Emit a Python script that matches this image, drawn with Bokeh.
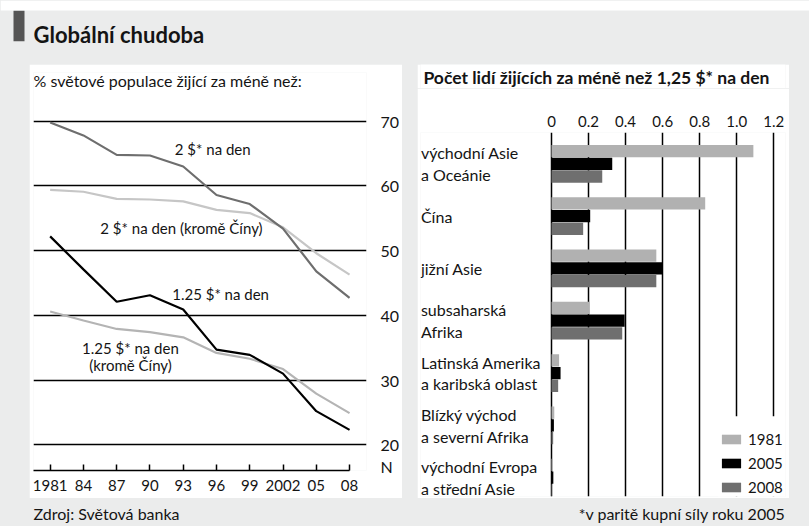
from bokeh.plotting import figure
from bokeh.models import (Range1d, FixedTicker, Label, Legend, LegendItem, BoxAnnotation,
                          Spacer, GlobalInlineStyleSheet)
from bokeh.layouts import row, column
from bokeh.embed import file_html
from bokeh.resources import INLINE
from bokeh.core.properties import value

FONT = "Lato"
BG = "#ebecec"
TXT = "#141414"

# ---------------- data ----------------
years = [1981, 1984, 1987, 1990, 1993, 1996, 1999, 2002, 2005, 2008]
year_labels = ["1981", "84", "87", "90", "93", "96", "99", "2002", "05", "08"]
usd2 = [69.8, 67.8, 64.8, 64.7, 63.0, 58.6, 57.2, 53.4, 46.8, 42.7]
usd2_ex_china = [59.4, 59.1, 58.0, 57.9, 57.6, 56.3, 55.8, 53.6, 49.6, 46.3]
usd125 = [52.2, 47.1, 42.1, 43.1, 40.9, 34.7, 33.9, 31.0, 25.2, 22.3]
usd125_ex_china = [40.6, 39.2, 37.9, 37.4, 36.6, 34.2, 33.3, 31.7, 27.9, 24.9]
pct_ticks = [20, 30, 40, 50, 60, 70]
break_mark = 16.65  # axis-break symbol below the 20 gridline

regions = ["východní Asie\na Oceánie", "Čína", "jižní Asie", "subsaharská\nAfrika",
           "Latinská Amerika\na karibská oblast", "Blízký východ\na severní Afrika",
           "východní Evropa\na střední Asie"]
v1981 = [1.09, 0.83, 0.566, 0.205, 0.041, 0.015, 0.007]
v2005 = [0.328, 0.209, 0.600, 0.395, 0.049, 0.013, 0.010]
v2008 = [0.274, 0.171, 0.566, 0.382, 0.036, 0.009, 0.003]
bar_ticks = [0, 0.2, 0.4, 0.6, 0.8, 1, 1.2]
series_names = ["1981", "2005", "2008"]
series_colors = ["#b1b1b1", "#000000", "#6f6f6f"]


def plain(width, height, fill):
    fig = figure(width=width, height=height, x_range=Range1d(0, width),
                 y_range=Range1d(0, height), output_backend="svg", toolbar_location=None,
                 min_border=0, x_axis_type=None, y_axis_type=None, title=None)
    fig.background_fill_color = fill
    fig.border_fill_color = fill
    fig.outline_line_color = None
    return fig


# ---------------- header ----------------
head = plain(809, 64, BG)
head.add_layout(BoxAnnotation(left=13, right=24, bottom=23.3, top=54, fill_color="#555555",
                              fill_alpha=1, line_color=None))
head.add_layout(BoxAnnotation(bottom=54, fill_color="white", fill_alpha=1, line_color=None))
head.add_layout(Label(x=33, y=30, text="Globální chudoba", text_font=FONT,
                      text_font_size="22px", text_font_style="bold",
                      text_baseline="middle", text_color=TXT))

# ---------------- left chart ----------------
lf = figure(width=373, height=434, x_range=Range1d(1979.498, 2009.528),
            y_range=Range1d(16.03, 77.52), y_axis_location="right",
            output_backend="svg", toolbar_location=None, title=None,
            min_border_left=4, min_border_right=29, min_border_top=8, min_border_bottom=28)
lf.background_fill_color = "white"
lf.border_fill_color = "white"
lf.outline_line_color = None

lf.line(years, usd2_ex_china, line_color="#c6c6c6", line_width=2.2)
lf.line(years, usd2, line_color="#6e6e6e", line_width=2.2)
lf.line(years, usd125_ex_china, line_color="#b4b4b4", line_width=2.2)
lf.line(years, usd125, line_color="#000000", line_width=2.2)

xa = lf.xaxis[0]
xa.ticker = FixedTicker(ticks=years)
xa.major_label_overrides = {y: l for y, l in zip(years, year_labels)}
xa.bounds = (1979.498, 2008)
xa.axis_line_color = "black"
xa.axis_line_width = 1.5
xa.major_tick_in = 6
xa.major_tick_out = 0
xa.major_tick_line_width = 1.5
xa.major_tick_line_color = "black"
xa.minor_tick_line_color = None
xa.major_label_standoff = 9
xa.major_label_text_font = FONT
xa.major_label_text_font_size = "15px"
xa.major_label_text_color = TXT

ya = lf.yaxis[0]
ya.ticker = FixedTicker(ticks=pct_ticks + [break_mark])
ya.major_label_overrides = {break_mark: "N"}
ya.axis_line_color = None
ya.major_tick_line_color = None
ya.minor_tick_line_color = None
ya.major_label_standoff = 8
ya.major_label_text_font = FONT
ya.major_label_text_font_size = "16px"
ya.major_label_text_color = TXT

lf.xgrid.visible = False
lf.ygrid.ticker = FixedTicker(ticks=pct_ticks)
lf.ygrid.grid_line_color = "black"
lf.ygrid.grid_line_width = 1.4

lab = dict(text_font=FONT, text_font_size="15px", text_color=TXT,
           text_align="center", text_baseline="middle")
lf.add_layout(Label(x=1979.498, y=76.29, text="% světové populace žijící za méně než:",
                    text_font=FONT, text_font_size="16px", text_color=TXT,
                    text_align="left", text_baseline="middle"))
lf.add_layout(Label(x=1995.66, y=65.63, text="2 $* na den", **lab))
lf.add_layout(Label(x=1992.84, y=53.56, text="2 $* na den (kromě Číny)", **lab))
lf.add_layout(Label(x=1996.37, y=43.37, text="1.25 $* na den", **lab))
lf.add_layout(Label(x=1988.24, y=34.9, text="1.25 $* na den", **lab))
lf.add_layout(Label(x=1988.24, y=32.4, text="(kromě Číny)", **lab))

# ---------------- right chart ----------------
rtitle = plain(372, 24, "white")
rtitle.add_layout(Label(x=3, y=11, text="Počet lidí žijících za méně než 1,25 $* na den",
                        text_font=FONT, text_font_size="17.5px", text_font_style="bold",
                        text_color=TXT, text_baseline="middle"))

rf = figure(width=372, height=410, x_range=Range1d(-0.7073, 1.2635),
            y_range=Range1d(-0.36, 6.598), x_axis_location="above", y_axis_location=None,
            output_backend="svg", toolbar_location=None, title=None,
            min_border_left=3, min_border_right=4, min_border_top=44, min_border_bottom=2)
rf.background_fill_color = "white"
rf.border_fill_color = "white"
rf.outline_line_color = None

centers = [len(regions) - 1 - i for i in range(len(regions))]
offsets = [0.243, 0.0, -0.243]
renderers = []
for vals, off, col in zip([v1981, v2005, v2008], offsets, series_colors):
    r = rf.hbar(y=[c + off for c in centers], left=0, right=vals, height=0.235,
                fill_color=col, line_color=None)
    renderers.append(r)

rxa = rf.xaxis[0]
rxa.ticker = FixedTicker(ticks=bar_ticks)
rxa.major_label_overrides = {0: "0", 1: "1.0"}
rxa.axis_line_color = None
rxa.major_tick_line_color = None
rxa.minor_tick_line_color = None
rxa.major_label_standoff = 0
rxa.major_label_text_font = FONT
rxa.major_label_text_font_size = "15px"
rxa.major_label_text_color = TXT

rf.ygrid.visible = False
rf.xgrid.ticker = FixedTicker(ticks=bar_ticks)
rf.xgrid.grid_line_color = "black"
rf.xgrid.grid_line_width = 1.5

rf.text(x=[-0.705] * len(regions), y=centers, text=regions, text_font=value(FONT),
        text_font_size="16px", text_color=TXT, text_align="left", text_baseline="middle",
        text_line_height=1.15)

rf.add_layout(BoxAnnotation(left=0.9, bottom=-1, top=1.174, fill_color="white",
                            fill_alpha=1, line_color=None))
legend = Legend(items=[LegendItem(label=n, renderers=[r]) for n, r in zip(series_names, renderers)],
                location=(299, 0), glyph_width=24, glyph_height=12, label_height=12,
                spacing=6, padding=0, margin=0, label_standoff=5,
                label_text_font=FONT, label_text_font_size="15px", label_text_color=TXT,
                border_line_color=None, background_fill_alpha=0)
rf.add_layout(legend)

# ---------------- footer ----------------
foot = plain(809, 28, BG)
foot.add_layout(Label(x=33, y=13, text="Zdroj: Světová banka", text_font=FONT,
                      text_font_size="16px", text_color=TXT, text_baseline="middle"))
foot.add_layout(Label(x=785, y=13, text="*v paritě kupní síly roku 2005", text_font=FONT,
                      text_font_size="16px", text_color=TXT, text_baseline="middle",
                      text_align="right"))

sp_style = {"background-color": BG}
mid = row(Spacer(width=29, height=434, styles=sp_style), column(lf),
          Spacer(width=15, height=434, styles=sp_style), column(rtitle, rf),
          Spacer(width=20, height=434, styles=sp_style))
layout = column(head, mid, foot, styles=sp_style)
layout.stylesheets = [GlobalInlineStyleSheet(
    css="body{background:#ebecec linear-gradient(#ffffff,#ffffff) no-repeat top left / 100% 10px;}")]

open("out.html", "w").write(file_html(layout, INLINE))
